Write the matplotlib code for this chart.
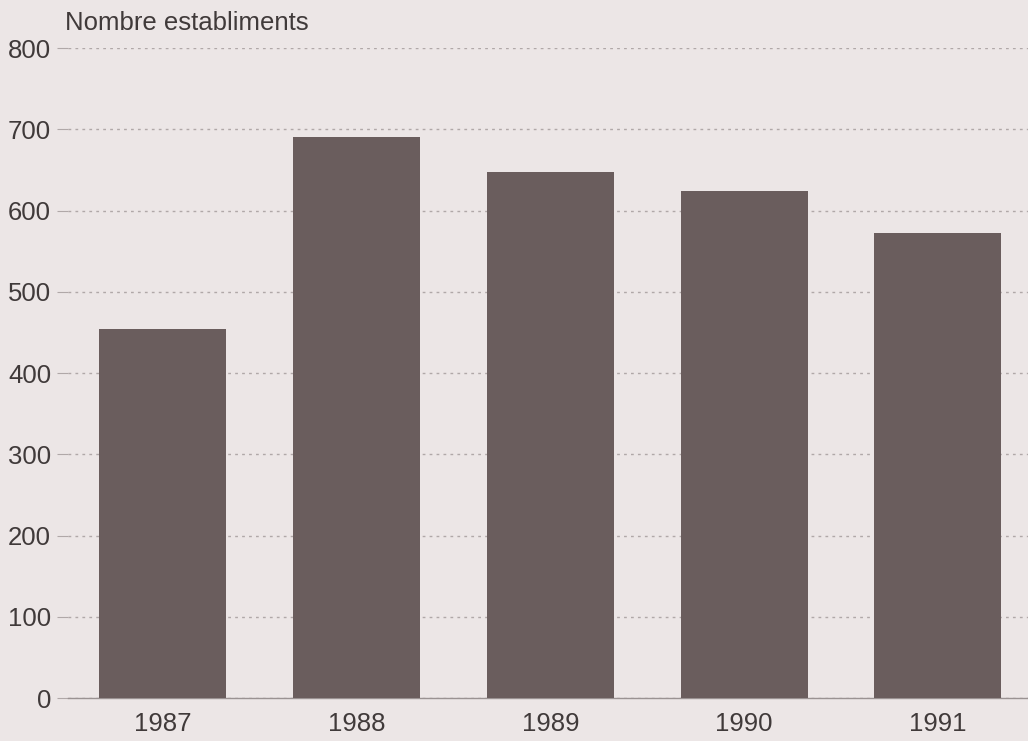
import matplotlib
matplotlib.use('Agg')
from matplotlib import pyplot as plt
import matplotlib as mpl

mpl.rc('font', family=['Liberation Sans', 'DejaVu Sans'])

# Data
years = ['1987', '1988', '1989', '1990', '1991']
establiments = [454, 691, 647, 624, 573]
y_ticks = [0, 100, 200, 300, 400, 500, 600, 700, 800]

paper = '#ece6e6'
bar_col = '#6a5d5d'
text_col = '#403a3a'
grid_col = '#b0a8a8'

fig = plt.figure(figsize=(10.28, 7.41), dpi=100, facecolor=paper)
ax = fig.add_axes([0.066, 0.058, 0.934, 0.877], facecolor=paper)

ax.bar(range(len(years)), establiments, width=0.655, color=bar_col, zorder=3)

ax.set_xlim(-0.49, len(years) - 1 + 0.465)
ax.set_ylim(0, 800)
ax.set_yticks(y_ticks)
ax.set_xticks(range(len(years)))
ax.set_xticklabels(years)

ax.yaxis.grid(True, linestyle=(0, (2, 3)), color=grid_col, linewidth=1.0, zorder=0)
for side in ['top', 'right', 'left']:
    ax.spines[side].set_visible(False)
ax.spines['bottom'].set_color('#9a9292')
ax.spines['bottom'].set_linewidth(1.0)

ax.tick_params(axis='y', length=8, color=grid_col, labelsize=18.5, labelcolor=text_col, pad=4)
ax.tick_params(axis='x', length=0, labelsize=18.5, labelcolor=text_col, pad=10)

ax.text(-0.003, 1.021, 'Nombre establiments', transform=ax.transAxes,
        fontsize=18.5, color=text_col, ha='left', va='bottom')

fig.savefig('out.png', dpi=100, facecolor=paper)
